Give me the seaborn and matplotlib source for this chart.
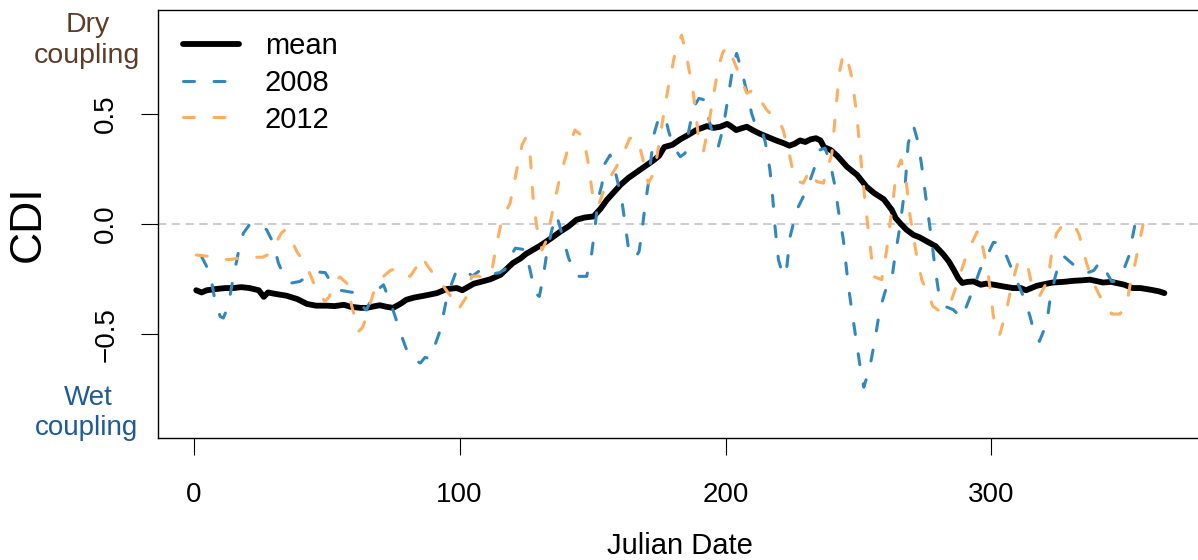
import matplotlib
matplotlib.use("Agg")
import matplotlib.pyplot as plt
import pandas as pd
import seaborn as sns

# ---- data: Julian day and coupling drought index (CDI) ----
mean_day = [1, 3, 5, 8, 12, 15, 18, 21, 24.5, 26.4, 28, 30, 35, 39, 42.6, 46, 50, 53,
            56.5, 59, 62.8, 65, 70, 72.5, 75, 78, 80, 83, 86.6, 91.5, 95, 99, 101,
            105.4, 108, 111.6, 115.4, 118, 120, 123, 125, 130, 134, 138, 141, 144,
            147, 150.4, 153, 155.4, 158, 160.5, 163.5, 166.8, 170, 173, 175, 177,
            180, 183, 186, 189, 193, 195.6, 198, 200.6, 202, 204, 206, 208, 210.5,
            213, 216, 219, 222, 224, 226, 228, 230, 232, 234, 235.7, 237, 239.5,
            242, 245.7, 249.5, 253, 256, 259.5, 262.5, 264, 266, 268, 270.7, 273,
            275.8, 279, 282, 284, 285.8, 287.5, 289, 291, 293.3, 296, 298, 301,
            304.6, 308, 311, 313, 315, 317, 320, 323, 327, 331, 334, 337, 340, 342,
            345, 347, 350, 353, 356, 360, 363, 365]
mean_cdi = [-0.30, -0.31, -0.30, -0.295, -0.29, -0.29, -0.286, -0.29, -0.30, -0.33,
            -0.31, -0.315, -0.325, -0.34, -0.362, -0.37, -0.37, -0.372, -0.366,
            -0.375, -0.38, -0.38, -0.368, -0.375, -0.38, -0.36, -0.343, -0.333,
            -0.325, -0.313, -0.295, -0.29, -0.30, -0.27, -0.262, -0.25, -0.23, -0.2,
            -0.177, -0.155, -0.135, -0.10, -0.068, -0.033, -0.01, 0.02, 0.03, 0.035,
            0.07, 0.11, 0.145, 0.178, 0.21, 0.238, 0.265, 0.29, 0.31, 0.35, 0.36,
            0.385, 0.405, 0.427, 0.445, 0.437, 0.442, 0.455, 0.445, 0.427, 0.435,
            0.442, 0.425, 0.41, 0.395, 0.38, 0.367, 0.356, 0.365, 0.38, 0.373, 0.385,
            0.39, 0.38, 0.35, 0.337, 0.31, 0.26, 0.223, 0.17, 0.14, 0.113, 0.065,
            0.027, 0.0, -0.025, -0.049, -0.06, -0.079, -0.1, -0.139, -0.17, -0.207,
            -0.245, -0.267, -0.262, -0.26, -0.275, -0.27, -0.275, -0.283, -0.29,
            -0.29, -0.30, -0.29, -0.28, -0.272, -0.265, -0.262, -0.257, -0.255,
            -0.252, -0.26, -0.265, -0.262, -0.267, -0.275, -0.29, -0.29, -0.298,
            -0.305, -0.313]

y2008_day = [3, 6.2, 8, 10, 11.2, 13, 15, 16.8, 18.7, 21.2, 25, 27.5, 30, 31.9, 34.4,
             36.9, 40, 42.6, 45, 47.5, 49.5, 52.6, 55, 57.6, 60, 63.4, 65, 67.8, 71.4,
             75, 77.8, 81, 83.5, 85.3, 87, 89, 92.8, 95.3, 98.5, 102, 104.7, 108, 110,
             113, 115, 117, 119, 121, 124.6, 126.5, 128.4, 130, 131.5, 132.8, 134.7,
             136.5, 138.4, 141, 144, 147.8, 149.7, 151, 152, 153.5, 154.7, 156.6, 159,
             161, 162.2, 163.5, 166, 167.5, 168.5, 169.7, 171, 171.8, 173.2, 174.7,
             177.3, 178.5, 180.4, 183, 184.8, 186, 187.3, 188.5, 190, 191.7, 193.5,
             195.4, 197.3, 199.2, 201, 203, 204.2, 206, 208, 209.8, 211, 213, 215,
             216.7, 217.6, 218.6, 219.9, 221.7, 223, 224.3, 226.8, 230.5, 233.6,
             235.5, 237.4, 239.3, 241.2, 242.4, 244.3, 246.2, 248, 249.3, 250.6, 252,
             254.3, 256.2, 258, 260.6, 262.5, 263.7, 265.6, 267.5, 268.7, 270.6,
             272.5, 273.8, 275.6, 277.5, 278.7, 280, 282.5, 285.6, 288.8, 290.6, 293,
             295.7, 298.2, 300.7, 303, 305.7, 308.5, 312, 314.5, 316.4, 318, 320.8,
             322, 324, 325.8, 327, 330.8, 332.6, 336.4, 338.5, 340.8, 342.7, 345.2,
             347, 349.7, 351.6, 352.8, 354, 356]
y2008_cdi = [-0.147, -0.222, -0.343, -0.419, -0.426, -0.373, -0.237, -0.131, -0.041,
             0.0, 0.0, -0.026, -0.086, -0.177, -0.245, -0.267, -0.26, -0.237, -0.23,
             -0.218, -0.22, -0.283, -0.30, -0.305, -0.31, -0.373, -0.39, -0.313,
             -0.275, -0.39, -0.494, -0.60, -0.62, -0.63, -0.605, -0.61, -0.479,
             -0.328, -0.222, -0.2, -0.237, -0.207, -0.2, -0.225, -0.22, -0.207,
             -0.15, -0.109, -0.116, -0.207, -0.313, -0.328, -0.237, -0.131, -0.026,
             0.042, -0.041, -0.154, -0.237, -0.237, -0.131, -0.01, 0.11, 0.178,
             0.276, 0.314, 0.216, 0.11, 0.005, -0.109, -0.155, -0.124, -0.041, 0.08,
             0.186, 0.28, 0.412, 0.475, 0.49, 0.427, 0.352, 0.306, 0.322, 0.412, 0.49,
             0.541, 0.571, 0.565, 0.488, 0.397, 0.352, 0.442, 0.578, 0.73, 0.775, 0.7,
             0.601, 0.503, 0.46, 0.455, 0.37, 0.246, 0.14, -0.01, -0.162, -0.235,
             -0.2, -0.056, 0.065, 0.155, 0.261, 0.337, 0.345, 0.28, 0.17, 0.065,
             -0.071, -0.283, -0.434, -0.539, -0.646, -0.74, -0.646, -0.524, -0.388,
             -0.283, -0.252, -0.147, -0.01, 0.17, 0.367, 0.45, 0.367, 0.261, 0.095,
             -0.071, -0.192, -0.298, -0.373, -0.388, -0.426, -0.373, -0.298, -0.207,
             -0.147, -0.083, -0.083, -0.147, -0.23, -0.328, -0.419, -0.51, -0.532,
             -0.449, -0.343, -0.237, -0.162, -0.144, -0.184, -0.215, -0.219, -0.21,
             -0.17, -0.207, -0.26, -0.26, -0.207, -0.147, -0.071, 0.0, 0.0]

y2012_day = [1, 5, 10, 14, 18, 22, 26, 28.5, 30.6, 33, 34.4, 36, 38.8, 42.5, 46.3,
             49.4, 51, 52.6, 55, 57.6, 59.5, 62, 63.5, 65, 67.6, 71.4, 74, 76.4, 78.3,
             81.4, 83.5, 85.8, 88, 91.4, 94, 97.7, 99.5, 102.7, 104.6, 107, 109, 112,
             114, 115.9, 119, 121.5, 123.5, 124.8, 126.5, 127.7, 129, 131, 132.8,
             135.3, 137.8, 141, 143.4, 146.5, 148.4, 150.3, 152, 155.3, 159, 161.6,
             164, 167, 169, 171, 172.5, 174, 176.6, 178.5, 181, 183.5, 185.4, 187.9,
             190, 191.7, 193.5, 195, 197.3, 199, 200.7, 203, 205.5, 208, 210.5, 212.3,
             215.5, 218, 219.5, 221.7, 224.2, 226, 229.2, 231.8, 234.3, 236.8, 240,
             241.8, 243, 244.3, 246, 247.4, 249.3, 251, 252.4, 253.5, 254.5, 255.6,
             258.7, 260.6, 262.5, 264.4, 266, 268, 269.4, 271.9, 273.8, 275.6, 278,
             280.6, 283, 285, 287.6, 290, 293, 295, 297, 298.8, 300, 300.7, 303,
             305.5, 307.5, 310, 312, 313.8, 315, 318, 321.3, 322.6, 324.5, 326.4,
             331, 333, 335, 337.7, 340.8, 342.7, 345.2, 348.3, 350.8, 352, 354,
             355.8, 357, 359]
y2012_cdi = [-0.14, -0.145, -0.16, -0.16, -0.152, -0.15, -0.15, -0.135, -0.094,
             -0.04, -0.026, -0.05, -0.124, -0.192, -0.298, -0.351, -0.33, -0.267,
             -0.24, -0.268, -0.373, -0.487, -0.47, -0.419, -0.313, -0.237, -0.21,
             -0.2, -0.222, -0.237, -0.2, -0.147, -0.19, -0.245, -0.283, -0.343,
             -0.388, -0.328, -0.237, -0.235, -0.245, -0.222, -0.086, 0.02, 0.095,
             0.246, 0.36, 0.39, 0.32, 0.11, -0.01, -0.117, -0.071, 0.08, 0.216,
             0.352, 0.427, 0.397, 0.276, 0.11, 0.08, 0.186, 0.261, 0.322, 0.39, 0.39,
             0.29, 0.186, 0.22, 0.29, 0.488, 0.624, 0.775, 0.858, 0.76, 0.594, 0.38,
             0.33, 0.442, 0.55, 0.714, 0.78, 0.808, 0.745, 0.67, 0.594, 0.609, 0.578,
             0.518, 0.49, 0.485, 0.427, 0.306, 0.2, 0.186, 0.246, 0.193, 0.186,
             0.322, 0.563, 0.7, 0.775, 0.74, 0.67, 0.503, 0.28, 0.11, -0.01, -0.11,
             -0.237, -0.252, -0.116, 0.065, 0.246, 0.291, 0.186, 0.035, -0.147,
             -0.252, -0.305, -0.373, -0.396, -0.358, -0.343, -0.252, -0.162, -0.075,
             -0.026, -0.12, -0.23, -0.343, -0.42, -0.505, -0.40, -0.28, -0.17,
             -0.162, -0.2, -0.267, -0.328, -0.252, -0.131, -0.041, -0.01, 0.0, -0.05,
             -0.147, -0.252, -0.328, -0.351, -0.408, -0.408, -0.366, -0.283, -0.177,
             -0.071, 0.0, 0.0]

series_labels = ["mean", "2008", "2012"]
x_ticks = [0, 100, 200, 300]
y_ticks = [-0.5, 0.0, 0.5]
y_tick_labels = ["\u22120.5", "0.0", "0.5"]

# ---- styling ----
sns.set_theme(style="ticks")
plt.rcParams["font.family"] = ["Liberation Sans", "DejaVu Sans"]
plt.rcParams["text.color"] = "black"
plt.rcParams["axes.labelcolor"] = "black"
plt.rcParams["xtick.color"] = "black"
plt.rcParams["ytick.color"] = "black"

W, H = 1198, 560
fig = plt.figure(figsize=(W / 100, H / 100), dpi=100)
# plot box in pixel units: left, top, right, bottom
L, T, R, B = 157.5, 10.0, 1203.1, 438.3
ax = fig.add_axes([L / W, 1 - B / H, (R - L) / W, (B - T) / H])

ax.axhline(0, color="#BEBEBE", lw=1.1, linestyle=(0, (5.5, 3.5)), zorder=1)

frames = [
    pd.DataFrame({"day": mean_day, "cdi": mean_cdi}),
    pd.DataFrame({"day": y2008_day, "cdi": y2008_cdi}),
    pd.DataFrame({"day": y2012_day, "cdi": y2012_cdi}),
]
colors = ["black", "#3288BD", "#FDAE61"]

sns.lineplot(data=frames[0], x="day", y="cdi", ax=ax, color=colors[0], linewidth=4.2,
             label=series_labels[0], estimator=None, sort=False,
             solid_capstyle="round", solid_joinstyle="round", zorder=3)
for df, col, lab in zip(frames[1:], colors[1:], series_labels[1:]):
    sns.lineplot(data=df, x="day", y="cdi", ax=ax, color=col, linewidth=2.2,
                 label=lab, estimator=None, sort=False,
                 linestyle=(0, (3.6, 6.4)), dash_capstyle="round",
                 dash_joinstyle="round", zorder=4)

ax.set_xlim(-13.56, 379.56)
ax.set_ylim(-0.972, 0.972)
ax.set_xticks(x_ticks)
ax.set_xticklabels([str(t) for t in x_ticks])
ax.set_yticks(y_ticks)
ax.set_yticklabels(y_tick_labels, rotation=90, va="center")

for s in ax.spines.values():
    s.set_color("black")
    s.set_linewidth(1.0)
ax.tick_params(axis="both", direction="out", length=12.5, width=0.8,
               color="black", labelcolor="black", labelsize=20)
ax.tick_params(axis="x", pad=19)
ax.tick_params(axis="y", pad=15)

ax.set_xlabel("Julian Date", fontsize=21, labelpad=17, color="black")
ax.set_ylabel("CDI", fontsize=32, color="black")
ax.yaxis.label.set_va("center")
ax.yaxis.set_label_coords((28 - L) / (R - L), 0.5)

leg = ax.legend(loc="upper left", bbox_to_anchor=(183 / W, 1 - 32 / H),
                bbox_transform=fig.transFigure, frameon=False, fontsize=21,
                handlelength=1.92, handletextpad=0.89, labelspacing=0.3,
                borderpad=0, borderaxespad=0)
for t in leg.get_texts():
    t.set_color("black")

brown, blue = "#5C3D2A", "#1F5A9A"
fig.text(87.5 / W, 1 - 31.7 / H, "Dry", ha="center", va="baseline", color=brown, fontsize=20.5)
fig.text(87 / W, 1 - 63 / H, "coupling", ha="center", va="baseline", color=brown, fontsize=20.5)
fig.text(88 / W, 1 - 405 / H, "Wet", ha="center", va="baseline", color=blue, fontsize=20)
fig.text(87 / W, 1 - 435 / H, "coupling", ha="center", va="baseline", color=blue, fontsize=20)

fig.savefig("out.png", dpi=100)
